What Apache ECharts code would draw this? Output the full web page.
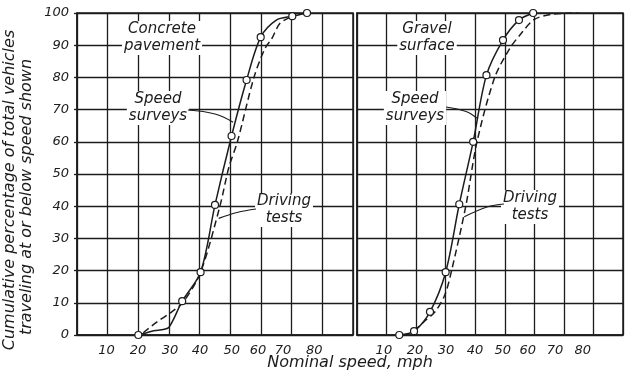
<!DOCTYPE html>
<html><head><meta charset="utf-8">
<script src="https://cdn.jsdelivr.net/npm/echarts@6/dist/echarts.min.js"></script>
<style>html,body{margin:0;padding:0;background:#fff}#c{width:631px;height:372px}</style>
</head><body><div id="c"></div>
<script>
// ---- data ----
const yTickValues = [0,10,20,30,40,50,60,70,80,90,100];
const xTickLabels = ['10','20','30','40','50','60','70','80'];
const panelTitles = ['Concrete\npavement', 'Gravel\nsurface'];
const surveyLabel = 'Speed\nsurveys';
const drivingLabel = 'Driving\ntests';
const xTitle = 'Nominal speed, mph';
const yTitle1 = 'Cumulative percentage of total vehicles';
const yTitle2 = 'traveling at or below speed shown';

// Concrete pavement
const concreteSurvey = [[20,0],[23,0.8],[25.5,1.4],[27.5,1.6],[30,2.4],[34.3,10.5],[40.3,19.5],[45,40.4],[50.4,61.8],[55.3,79.2],[59.9,92.5],[65,97.8],[70.2,99],[75,100]];
const concreteSurveyObserved = [1,0,0,0,0,1,1,1,1,1,1,0,1,1];
const concreteDriving = [[21.6,0.7],[26,4],[30.9,7.2],[34.7,10.3],[40.3,19.5],[46.6,40],[49.5,52],[52.3,60],[57.7,80],[61.3,89],[63.5,92],[66.2,96.8],[70.2,99]];
// Gravel surface
const gravelSurvey = [[14.3,0],[19.3,1.2],[24.7,7.2],[30,19.5],[34.6,40.6],[39.3,60],[43.8,80.7],[49.4,91.6],[54.8,97.8],[59.6,100]];
const gravelSurveyObserved = [1,1,1,1,1,1,1,1,1,1];
const gravelDriving = [[19.3,1.2],[22.5,4],[26.4,7.2],[29.7,12.4],[32,20],[36.8,40],[40.6,60],[46.6,80],[51.7,89],[55.6,93.7],[60,98],[66,99.6],[75,100]];

// ---- chart ----
const INK = '#1c1c1c';
const FONT = 'DejaVu Sans';
const chart = echarts.init(document.getElementById('c'), null, {renderer:'canvas'});

// where the scanned tick labels sit along each axis (grid units)
const labelSpots = [
  [9.6,19.9,30.3,40.1,50.5,59,67.2,77.4],
  [9.1,19.6,30.1,39.9,49.3,57.8,67.0,76.4]
];

function xAxisFor(i){
  const spots = labelSpots[i];
  return {
    gridIndex:i, type:'value', min:0, max:90, interval:10,
    axisLine:{show:true, lineStyle:{color:INK, width:1.5}},
    axisTick:{show:false},
    splitLine:{show:true, lineStyle:{color:INK, width:1.3}},
    axisLabel:{
      customValues: spots,
      margin:9, color:INK, fontFamily:FONT, fontStyle:'italic', fontSize:13,
      formatter:function(v){
        let best=0, d=1e9;
        spots.forEach((s,k)=>{ if(Math.abs(s-v)<d){d=Math.abs(s-v);best=k;} });
        return xTickLabels[best];
      }
    }
  };
}
function yAxisFor(i){
  return {
    gridIndex:i, type:'value', min:0, max:100, interval:10,
    axisLine:{show:true, lineStyle:{color:INK, width:1.5}},
    axisTick:{show:i===0, length:3, lineStyle:{color:INK, width:1.3}},
    splitLine:{show:true, lineStyle:{color:INK, width:1.3}},
    axisLabel:{show:i===0, margin:8, color:INK, fontFamily:FONT, fontStyle:'italic', fontSize:13,
      customValues: yTickValues}
  };
}
function surveySeries(i, pts, observed){
  return {
    type:'line', xAxisIndex:i, yAxisIndex:i, smooth:0.3,
    data: pts.map((p,k)=>({value:p, symbol: observed[k] ? 'circle' : 'none'})),
    symbolSize:7, showAllSymbol:true, clip:true,
    itemStyle:{color:'#fff', borderColor:INK, borderWidth:1.2},
    lineStyle:{color:INK, width:1.5}, z:3, silent:true
  };
}
function drivingSeries(i, pts){
  return {
    type:'line', xAxisIndex:i, yAxisIndex:i, smooth:0.3, clip:true,
    data: pts, showSymbol:false, symbol:'none',
    lineStyle:{color:INK, width:1.5, type:[7,4]}, z:2, silent:true
  };
}

chart.setOption({
  animation:false,
  backgroundColor:'#fff',
  grid:[
    {left:77, top:13, width:276, height:322, show:true, borderColor:INK, borderWidth:1.5, backgroundColor:'transparent'},
    {left:357, top:13, width:266, height:322, show:true, borderColor:INK, borderWidth:1.5, backgroundColor:'transparent'}
  ],
  xAxis:[xAxisFor(0), xAxisFor(1)],
  yAxis:[yAxisFor(0), yAxisFor(1)],
  series:[
    drivingSeries(0, concreteDriving),
    surveySeries(0, concreteSurvey, concreteSurveyObserved),
    drivingSeries(1, gravelDriving),
    surveySeries(1, gravelSurvey, gravelSurveyObserved)
  ]
});

// annotations
function label(text, x, y){
  return {type:'text', x:x, y:y, z:1,
    style:{text:text, fill:INK, font:'italic 15px "'+FONT+'"', align:'center', verticalAlign:'top',
      lineHeight:17, backgroundColor:'#fff', padding:[0,2]}};
}
function leader(gi, start, mid, anchor){
  const end = chart.convertToPixel({gridIndex:gi}, anchor);
  return {type:'polyline', z:1, shape:{points:[start, mid, end], smooth:0.4},
    style:{stroke:INK, lineWidth:1.2, fill:null}};
}
chart.setOption({graphic:[
  label(panelTitles[0], 162, 21),
  label(surveyLabel, 158, 91),
  label(drivingLabel, 284, 193),
  label(panelTitles[1], 427, 21),
  label(surveyLabel, 415, 91),
  label(drivingLabel, 530, 190),
  leader(0, [188,110], [215,114], [50.9,66.1]),
  leader(0, [256,209], [237,212.5], [46.2,36.2]),
  leader(1, [446,107], [466,111.5], [40.6,67.3]),
  leader(1, [504,204], [487,207], [36.3,36.7]),
  {type:'text', x:350, y:363, z:1, style:{text:xTitle, fill:INK, font:'italic 16px "'+FONT+'"', align:'center', verticalAlign:'middle'}},
  {type:'text', x:10, y:190, rotation:Math.PI/2, z:1, style:{text:yTitle1, fill:INK, font:'italic 16px "'+FONT+'"', align:'center', verticalAlign:'middle'}},
  {type:'text', x:27, y:197, rotation:Math.PI/2, z:1, style:{text:yTitle2, fill:INK, font:'italic 16px "'+FONT+'"', align:'center', verticalAlign:'middle'}}
]});
</script></body></html>
